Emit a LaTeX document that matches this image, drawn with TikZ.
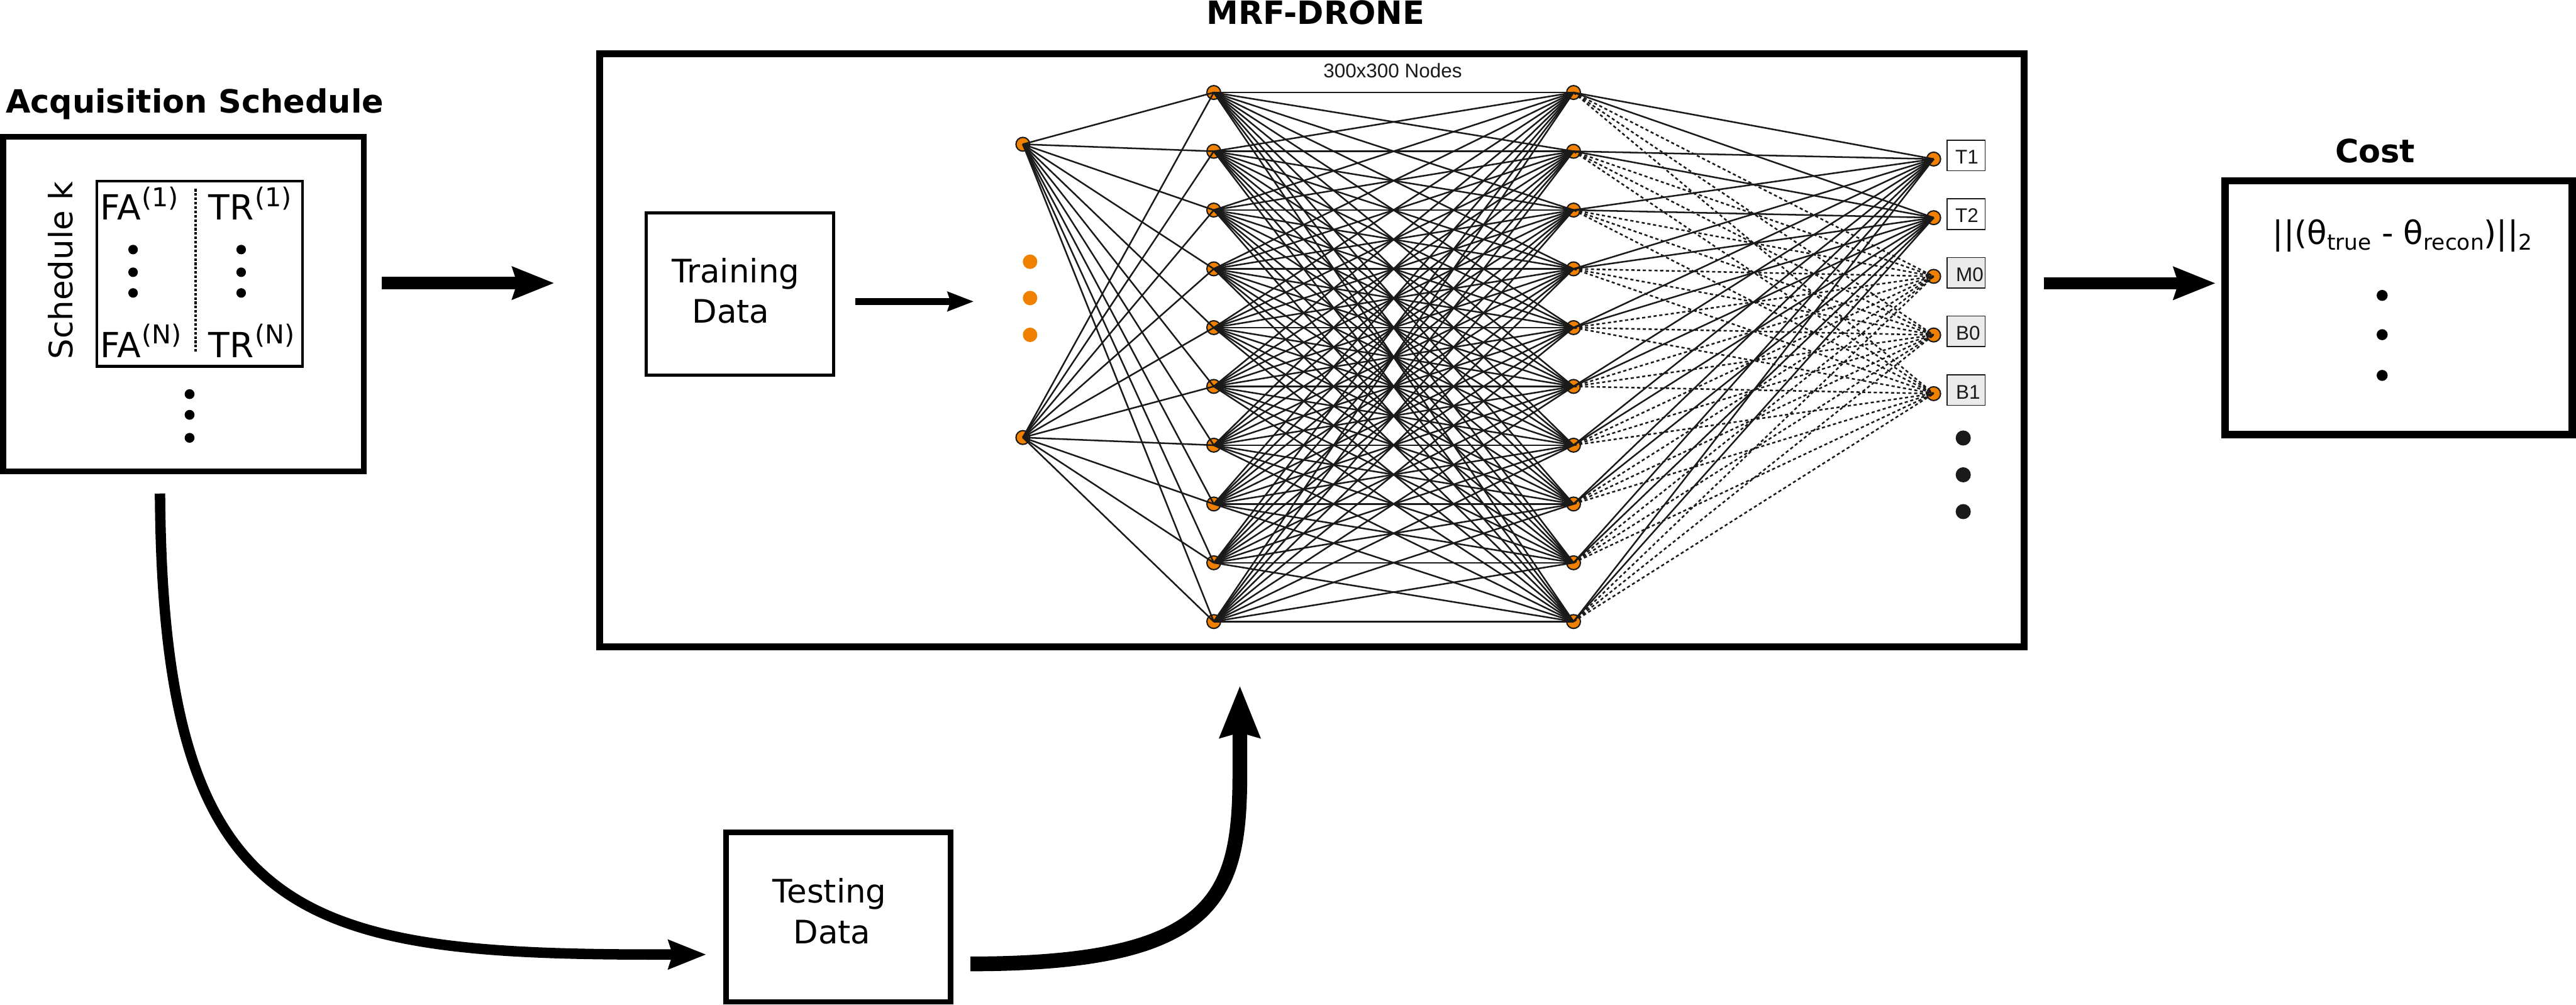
\documentclass[tikz,border=0pt]{standalone}
\usepackage{fontspec}
\setmainfont{DejaVu Sans}
\newfontfamily\labfont{Liberation Sans}
\usetikzlibrary{arrows.meta}
\definecolor{nodeorange}{RGB}{240,128,0}
\definecolor{netdark}{RGB}{26,26,26}
\definecolor{labgray}{RGB}{235,235,235}
\newcommand{\supx}[1]{\kern0.3pt\raisebox{4.65pt}{\fontsize{9pt}{10pt}\selectfont #1}}
\newcommand{\subx}[1]{\raisebox{-1.9pt}{\fontsize{7.5pt}{8pt}\selectfont #1}}
\begin{document}
\begin{tikzpicture}[x=0.02cm, y=-0.02cm,
  txt/.style={inner sep=0pt, outer sep=0pt},
  titlefont/.style={font=\fontsize{11.1pt}{13pt}\selectfont\bfseries},
  bodyfont/.style={font=\fontsize{11.2pt}{13pt}\selectfont},
  tabfont/.style={font=\fontsize{12pt}{14pt}\selectfont},
  netfont/.style={font=\labfont\fontsize{6.85pt}{8pt}\selectfont, text=netdark},
  framebox/.style={draw=black, rectangle, inner sep=0pt, outer sep=0pt},
  netnode/.style={circle, draw=netdark, line width=0.45pt, fill=nodeorange, minimum size=0.168cm, inner sep=0pt},
  netline/.style={draw=netdark, line width=0.55pt},
  netdash/.style={netline, dash pattern=on 1.1pt off 0.9pt},
  labbox/.style={draw=netdark, line width=0.37pt, rectangle, minimum width=0.46cm, minimum height=0.372cm, inner sep=0pt},
  bigarrow/.style={draw=black, line width=4.2pt, -{Stealth[length=14.4pt, width=10.9pt, inset=1.5pt]}},
]
\useasboundingbox (0,0) rectangle (1568,611.5);

% ---------- Acquisition schedule ----------
\node[txt, titlefont, anchor=base] (tacq) at (118.5,68.7) {Acquisition Schedule};
\node[framebox, line width=2.04pt, minimum width=4.393cm, minimum height=4.074cm] (acq) at (111.7,185.05) {};
\node[framebox, line width=1.0pt, minimum width=2.504cm, minimum height=2.256cm] (tab) at (121.5,166.7) {};
\node[txt, bodyfont, rotate=90, anchor=base] (schk) at (44.3,164.6) {Schedule k};
\node[txt, tabfont, anchor=base west] (fa1) at (61.2,133.8) {FA\supx{(1)}};
\node[txt, tabfont, anchor=base west] (tr1) at (127.0,133.8) {TR\supx{(1)}};
\node[txt, tabfont, anchor=base west] (fan) at (61.2,217.5) {FA\supx{(N)}};
\node[txt, tabfont, anchor=base west] (trn) at (127.0,217.5) {TR\supx{(N)}};
\draw[line width=0.95pt, dash pattern=on 0.9pt off 0.6pt] (119,115) -- (119,215);
\foreach \yy in {151.9,165.7,178.3} {
  \fill[black] (81,\yy) circle[radius=0.058cm];
  \fill[black] (146.8,\yy) circle[radius=0.058cm];
}
\foreach \yy in {239.9,252.5,266.5} \fill[black] (115.4,\yy) circle[radius=0.06cm];

% ---------- MRF-DRONE ----------
\node[txt, titlefont, anchor=base] (tmrf) at (800.8,14.7) {MRF-DRONE};
\node[framebox, line width=2.44pt, minimum width=17.34cm, minimum height=7.218cm] (mrf) at (798.5,213.15) {};
\node[framebox, line width=1.13pt, minimum width=2.28cm, minimum height=1.976cm] (train) at (450.4,179.1) {};
\node[txt, bodyfont, anchor=base] (ttrain1) at (447.8,171.9) {Training};
\node[txt, bodyfont, anchor=base] (ttrain2) at (444.8,196.4) {Data};
\node[txt, netfont, anchor=base] (tnodes) at (847.7,47.4) {300x300 Nodes};

% orange ellipsis dots
\foreach \yy in {159.3,181.4,203.8} \fill[nodeorange] (627,\yy) circle[radius=0.088cm];

% network nodes
\node[netnode] (in0) at (622.6,87.8) {};
\node[netnode] (in1) at (622.6,266.3) {};
\foreach \i in {0,...,9} {
  \node[netnode] (h1-\i) at (738.8,{56.3+35.78*\i}) {};
  \node[netnode] (h2-\i) at (957.8,{56.3+35.78*\i}) {};
}
\foreach \i/\yy in {1/96.8,2/132.5,3/168.2,4/203.9,5/239.6} {
  \node[netnode] (o\i) at (1177,\yy) {};
}
% output labels
\node[labbox, fill=white] (lb1) at (1196.8,94.6) {};
\node[labbox, fill=white] (lb2) at (1196.8,130.3) {};
\node[labbox, fill=labgray] (lb3) at (1196.8,166.0) {};
\node[labbox, fill=labgray] (lb4) at (1196.8,201.7) {};
\node[labbox, fill=labgray] (lb5) at (1196.8,237.4) {};
\node[txt, netfont, anchor=base west] (tl1) at (1190.2,99.7) {T1};
\node[txt, netfont, anchor=base west] (tl2) at (1190.2,135.4) {T2};
\node[txt, netfont, anchor=base west] (tl3) at (1190.6,171.3) {M0};
\node[txt, netfont, anchor=base west] (tl4) at (1190.6,207.0) {B0};
\node[txt, netfont, anchor=base west] (tl5) at (1190.6,242.7) {B1};
\foreach \yy in {266.6,289,311.4} \fill[netdark] (1195,\yy) circle[radius=0.092cm];

% network edges
\foreach \a in {0,1} \foreach \b in {0,...,9} \draw[netline] (in\a.center) -- (h1-\b.center);
\foreach \a in {0,...,9} \foreach \b in {0,...,9} \draw[netline] (h1-\a.center) -- (h2-\b.center);
\foreach \a in {0,...,9} {
  \foreach \b in {3,4,5} \draw[netdash] (h2-\a.center) -- (o\b.center);
  \foreach \b in {1,2} \draw[netline] (h2-\a.center) -- (o\b.center);
}

% ---------- Cost ----------
\node[txt, titlefont, anchor=base] (tcost) at (1445.7,99) {Cost};
\node[framebox, line width=2.5pt, minimum width=4.228cm, minimum height=3.092cm] (cost) at (1460,187.3) {};
\node[txt, font=\fontsize{11.2pt}{13pt}\selectfont, anchor=base] (formula) at (1462.4,148.9) {||(θ\subx{true} - θ\subx{recon})||\subx{2}};
\foreach \yy in {179.8,203.7,228.5} \fill[black] (1450,\yy) circle[radius=0.067cm];

% ---------- Testing data ----------
\node[framebox, line width=1.93pt, minimum width=2.734cm, minimum height=2.066cm] (test) at (510.35,558.15) {};
\node[txt, bodyfont, anchor=base] (ttest1) at (505,549.5) {Testing};
\node[txt, bodyfont, anchor=base] (ttest2) at (506.5,574.4) {Data};

% ---------- Arrows ----------
\coordinate (a1s) at (232.5,172.3);
\coordinate (a1e) at (337.5,172.3);
\coordinate (a2s) at (1244.3,172.4);
\coordinate (a2e) at (1348.7,172.4);
\coordinate (a3s) at (520.7,183.5);
\coordinate (a3e) at (592.8,183.5);
\coordinate (c1s) at (97.4,300.4);
\coordinate (c1e) at (430,581);
\coordinate (c2s) at (590.7,586.7);
\coordinate (c2e) at (754.7,417.2);

\draw[bigarrow] (a1s) -- (a1e);
\draw[bigarrow] (a2s) -- (a2e);
\draw[draw=black, line width=2.27pt, -{Stealth[length=9pt, width=6.5pt, inset=0.9pt]}] (a3s) -- (a3e);
\draw[draw=black, line width=3.6pt, -{Stealth[length=13pt, width=9.75pt, inset=1.3pt]}]
  (c1s) .. controls (99,560) and (180,581) .. (400,581) -- (c1e);
\draw[draw=black, line width=5.1pt, -{Stealth[length=17.8pt, width=13.4pt, inset=1.5pt]}]
  (c2s) .. controls (742,586.7) and (754.7,545) .. (754.7,470) -- (c2e);
\end{tikzpicture}
\end{document}
